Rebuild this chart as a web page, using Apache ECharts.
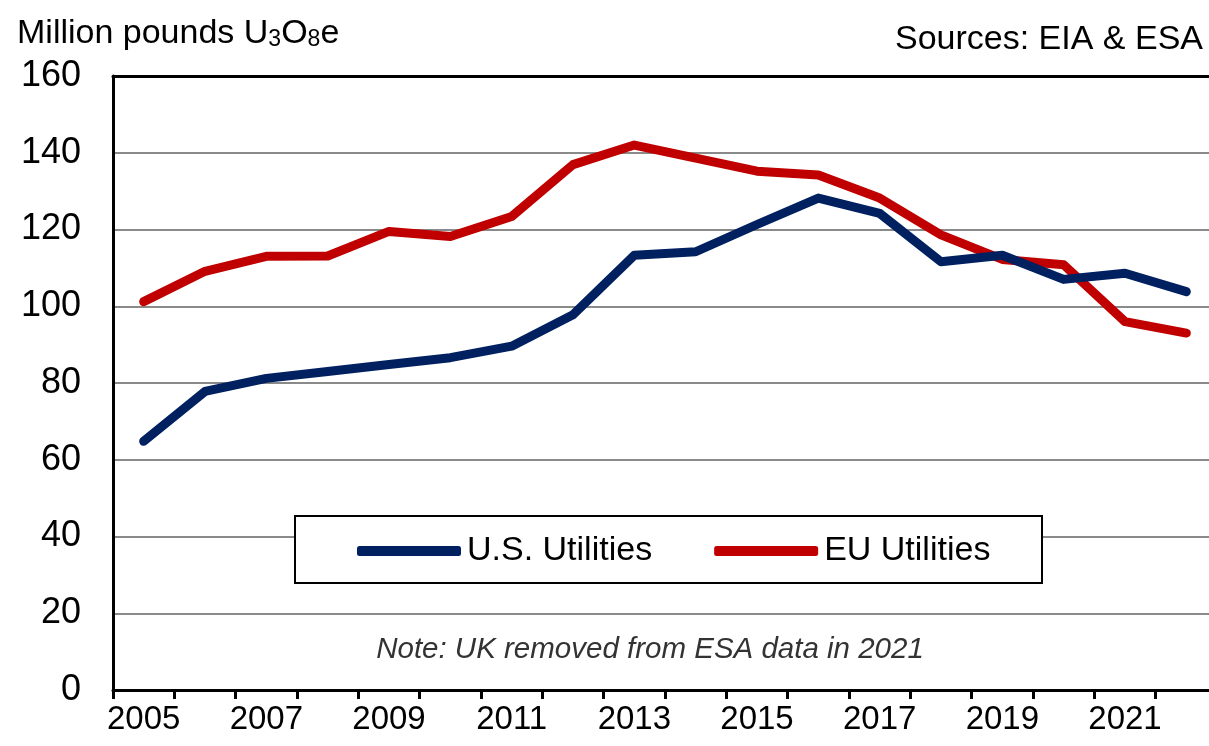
<!DOCTYPE html>
<html><head><meta charset="utf-8">
<script src="https://cdn.jsdelivr.net/npm/echarts@6/dist/echarts.min.js"></script>
<style>html,body{margin:0;padding:0;background:#fff;overflow:hidden;width:1209px;height:746px}#c{width:1217px;height:746px}</style>
</head><body><div id="c"></div>
<script>
const years = ['2005','2006','2007','2008','2009','2010','2011','2012','2013','2014','2015','2016','2017','2018','2019','2020','2021','2022'];
const usUtilities = [64.8, 77.8, 81.2, 83.0, 84.8, 86.6, 89.6, 97.8, 113.3, 114.2, 121.3, 128.2, 124.2, 111.6, 113.3, 107.0, 108.6, 103.8];
const euUtilities = [101.2, 109.1, 113.0, 113.1, 119.5, 118.2, 123.4, 136.9, 142.0, 138.6, 135.2, 134.2, 128.2, 118.6, 112.2, 110.8, 96.0, 93.0];
const yMin = 0, yMax = 160, yStep = 20;
const seriesNames = ['U.S. Utilities', 'EU Utilities'];
const FONT = '"Liberation Sans", Arial, sans-serif';

const chart = echarts.init(document.getElementById('c'));
chart.setOption({
  animation: false,
  backgroundColor: '#fff',
  title: [
    {
      text: '{a|Million pounds U}{s|3}{a|O}{s|8}{a|e}',
      left: 12, top: 6,
      textStyle: {
        rich: {
          a: { fontFamily: FONT, fontSize: 34, fontWeight: 'normal', color: '#000', lineHeight: 40, verticalAlign: 'bottom' },
          s: { fontFamily: FONT, fontSize: 23, fontWeight: 'normal', color: '#000', lineHeight: 32, verticalAlign: 'bottom' }
        }
      }
    },
    {
      text: 'Sources: EIA & ESA',
      right: 9, top: 18,
      textStyle: { fontFamily: FONT, fontSize: 34, fontWeight: 'normal', color: '#000' }
    },
    {
      text: 'Note: UK removed from ESA data in 2021',
      left: 645, top: 630, textAlign: 'center',
      textStyle: { fontFamily: FONT, fontSize: 29.5, fontWeight: 'normal', fontStyle: 'italic', color: '#333' }
    }
  ],
  grid: { left: 113, top: 76, right: 0, bottom: 56, containLabel: false },
  xAxis: [
    {
      type: 'category', data: years, boundaryGap: true, position: 'bottom',
      axisLine: { lineStyle: { color: '#000', width: 3 } },
      axisTick: { show: true, interval: 0, length: 9, lineStyle: { color: '#000', width: 3 } },
      axisLabel: { interval: 1, margin: 13, fontFamily: FONT, fontSize: 33, color: '#000' },
      splitLine: { show: false }
    },
    {
      type: 'category', data: years, boundaryGap: true, position: 'top',
      axisLine: { lineStyle: { color: '#000', width: 3 } },
      axisTick: { show: false }, axisLabel: { show: false }, splitLine: { show: false }
    }
  ],
  yAxis: {
    type: 'value', min: yMin, max: yMax, interval: yStep,
    axisLine: { show: true, lineStyle: { color: '#000', width: 3 } },
    axisTick: { show: false },
    axisLabel: { margin: 32, fontFamily: FONT, fontSize: 36, color: '#000' },
    splitLine: { show: true, lineStyle: { color: '#8a8a8a', width: 2 } }
  },
  legend: {
    data: seriesNames,
    left: 357, top: 534, z: 20,
    itemWidth: 104, itemHeight: 10, itemGap: 62,
    icon: 'roundRect',
    padding: 0,
    textStyle: { fontFamily: FONT, fontSize: 34, color: '#000', padding: [0, 0, 0, 1] }
  },
  graphic: [
    {
      type: 'rect', z: 10,
      shape: { x: 295, y: 516, width: 747, height: 67 },
      style: { fill: '#fff', stroke: '#000', lineWidth: 2 }
    }
  ],
  series: [
    {
      name: seriesNames[0], type: 'line', data: usUtilities, xAxisIndex: 0,
      symbol: 'none', z: 3,
      lineStyle: { color: '#002060', width: 9, cap: 'round', join: 'round' },
      itemStyle: { color: '#002060' }
    },
    {
      name: seriesNames[1], type: 'line', data: euUtilities, xAxisIndex: 0,
      symbol: 'none', z: 2,
      lineStyle: { color: '#c00000', width: 9, cap: 'round', join: 'round' },
      itemStyle: { color: '#c00000' }
    }
  ]
});
</script>
</body></html>
